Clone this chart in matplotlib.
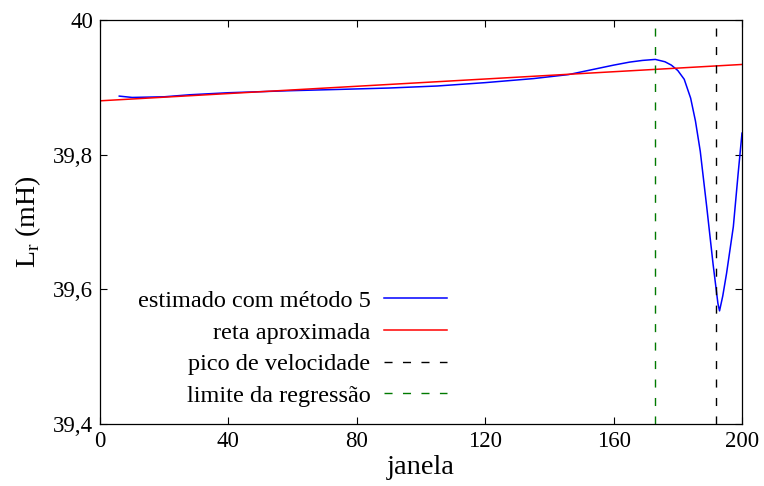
import numpy as np
import matplotlib.pyplot as plt

plt.rcParams['font.family'] = ['Liberation Serif', 'DejaVu Serif']
plt.rcParams['mathtext.fontset'] = 'custom'
plt.rcParams['mathtext.rm'] = 'Liberation Serif'

# estimated inductance (method 5)
janela = [6, 10, 20, 28, 40, 59, 75, 90, 105, 120, 135, 146, 155, 160, 165,
          169, 173, 176, 178, 180, 182, 184, 185.5, 187, 189, 191, 192.5,
          193, 194, 195.2, 197.3, 198.8, 200]
lr_est = [39.887, 39.885, 39.886, 39.889, 39.892, 39.895, 39.897, 39.899,
          39.902, 39.907, 39.913, 39.919, 39.928, 39.933, 39.9375, 39.940,
          39.9415, 39.938, 39.933, 39.925, 39.912, 39.884, 39.85, 39.805,
          39.723, 39.637, 39.579, 39.568, 39.59, 39.624, 39.693, 39.772,
          39.832]

# regression line
reta_x = [0, 200]
reta_y = [39.880, 39.934]

pico_vel = 192
lim_reg = 173

xticks = [0, 40, 80, 120, 160, 200]
yticks = [39.4, 39.6, 39.8, 40.0]
ytick_labels = ['39,4', '39,6', '39,8', '40']

fig = plt.figure(figsize=(7.64, 4.86), dpi=100)
ax = fig.add_axes([0.1309, 0.1276, 0.8403, 0.8312])

ax.plot(janela, lr_est, color='#0000ff', lw=1.1, label='estimado com método 5')
ax.plot(reta_x, reta_y, color='#ff0000', lw=1.1, label='reta aproximada')
ax.axvline(pico_vel, color='black', lw=1.0, dashes=(5.8, 7.5),
           label='pico de velocidade')
ax.axvline(lim_reg, color='#007a00', lw=1.0, dashes=(5.8, 7.5),
           label='limite da regressão')

ax.set_xlim(0, 200)
ax.set_ylim(39.4, 40.0)
ax.set_xticks(xticks)
ax.set_yticks(yticks)
ax.set_yticklabels(ytick_labels)
ax.tick_params(direction='in', length=5, width=0.8, top=True, right=True,
               labelsize=16.5, pad=5)
for s in ax.spines.values():
    s.set_linewidth(0.9)

ax.set_xlabel('janela', fontsize=20.5, labelpad=2)
ax.set_ylabel(r'L$_\mathrm{r}$ (mH)', fontsize=20, labelpad=7)

ax.legend(loc='lower right', bbox_to_anchor=(0.567, 0.0), frameon=False,
          markerfirst=False, fontsize=17.5, handlelength=2.6,
          handletextpad=0.55, labelspacing=0.4, borderpad=0.2)

fig.savefig('out.png', dpi=100)
